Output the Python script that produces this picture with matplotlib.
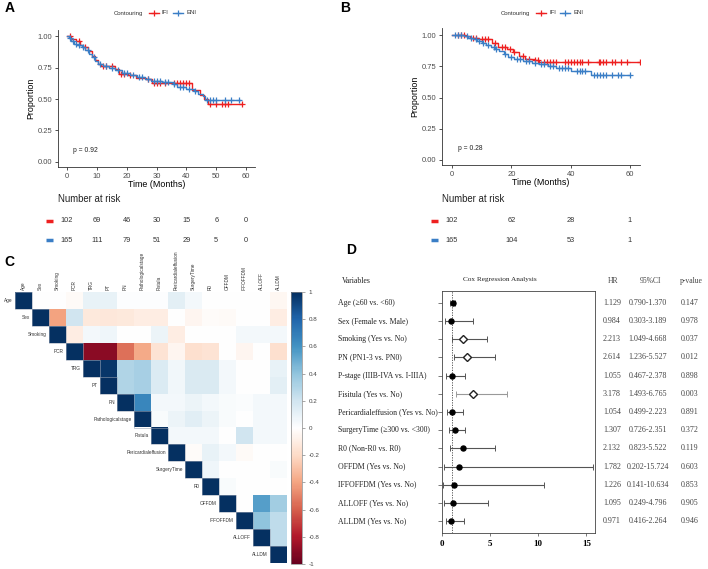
import numpy as np
import matplotlib
matplotlib.use("Agg")
import matplotlib.pyplot as plt
from matplotlib.lines import Line2D
from matplotlib.cm import ScalarMappable
from matplotlib.colors import Normalize, LinearSegmentedColormap
import matplotlib.transforms as mtrans

plt.rcParams['font.family'] = ['Liberation Sans', 'DejaVu Sans']

W, H = 708, 569

# ---------------- KM data ----------------
# Panel A (IFI = red, ENI = blue)
a_ifi_t = [0, 1.5, 3, 4.5, 5.5, 7, 8.5, 9.5, 10.5, 11.5, 16, 17.5, 20.5, 23, 26.5, 28.5, 42, 44.5, 46, 47.2]
a_ifi_s = [1.0, 0.98, 0.96, 0.93, 0.91, 0.88, 0.84, 0.81, 0.78, 0.76, 0.74, 0.70, 0.69, 0.67, 0.655, 0.625, 0.57, 0.53, 0.50, 0.46]
a_ifi_end = 58.5
a_ifi_cens = [1, 4, 6, 12, 13, 15, 18, 19, 21, 27, 29, 30, 31, 33, 36, 37, 38, 39, 40, 41, 48, 50, 52, 53, 54, 58.5]

a_eni_t = [0, 0.8, 1.5, 2.5, 3.5, 5, 6, 7.5, 8.5, 9.5, 10.5, 12, 14, 16, 18.5, 21, 23.5, 26, 28, 32, 35.5, 37, 40, 42.5, 44, 45.5, 46.2]
a_eni_s = [1.0, 0.985, 0.96, 0.94, 0.925, 0.91, 0.89, 0.86, 0.83, 0.80, 0.78, 0.765, 0.75, 0.73, 0.71, 0.69, 0.675, 0.66, 0.645, 0.635, 0.62, 0.595, 0.58, 0.56, 0.54, 0.52, 0.495]
a_eni_end = 58
a_eni_cens = [1, 2, 3, 4, 5.5, 7, 9, 11, 13, 15, 17, 19, 20, 22, 24, 25, 27, 29, 30, 31, 33, 34, 36, 38, 39, 41, 43, 47, 48, 49, 50, 53, 55, 57.8]

# Panel B
b_ifi_t = [0, 4.5, 6, 9, 13.5, 15.5, 18.5, 20.5, 22.5, 24.5, 27.5, 29.5]
b_ifi_s = [1.0, 0.99, 0.98, 0.97, 0.94, 0.905, 0.89, 0.865, 0.835, 0.81, 0.80, 0.785]
b_ifi_end = 63.3
b_ifi_cens = [2, 3, 4, 7, 8, 10, 11, 12, 14.5, 17, 18, 19.5, 21, 24, 26, 28, 29, 31, 32, 33, 34, 35, 38, 39,
              40, 41, 42, 43, 44, 46, 49.5, 50, 51, 52, 54, 55, 57, 59, 63.3]

b_eni_t = [0, 4, 5.5, 7, 8.5, 10, 11.5, 13, 14.5, 16, 17.5, 19, 21, 24, 27, 29.5, 32.5, 35, 40, 47]
b_eni_s = [1.0, 0.99, 0.98, 0.965, 0.95, 0.935, 0.92, 0.905, 0.89, 0.87, 0.85, 0.825, 0.81, 0.795, 0.78, 0.765, 0.75, 0.735, 0.715, 0.68]
b_eni_end = 60
b_eni_cens = [1, 2, 3, 5, 6.5, 8, 9, 10.5, 12, 14, 15, 18, 20, 22, 23, 25, 26, 28, 30, 31, 33, 34, 36, 37, 38,
              39, 42, 43, 44, 45, 48, 49, 50, 51, 52, 54, 56, 57, 60]

# numbers at risk
a_risk_times = [0, 10, 20, 30, 40, 50, 60]
a_risk_ifi = [102, 69, 46, 30, 15, 6, 0]
a_risk_eni = [165, 111, 79, 51, 29, 5, 0]
b_risk_times = [0, 20, 40, 60]
b_risk_ifi = [102, 62, 28, 1]
b_risk_eni = [165, 104, 53, 1]

# ---------------- correlation data ----------------
corr_vars = ["Age", "Sex", "Smoking", "PCR", "TRG", "PT", "PN", "Pathologicalstage", "Fistula",
             "Pericardialeffusion", "SurgeryTime", "R0", "OFFDM", "IFFOFFDM", "ALLOFF", "ALLDM"]
corr_upper = [
    [0, 0, -0.03, 0.1, 0.1, 0.01, 0.01, 0.01, 0.12, 0.05, 0, 0, 0, 0, -0.04],
    [-0.4, 0.2, -0.12, -0.13, -0.12, -0.1, -0.1, 0, -0.05, -0.02, -0.03, 0, 0, -0.1],
    [-0.1, 0.05, 0.07, 0, 0, 0.08, -0.1, 0, 0, 0, 0.05, 0.05, 0.05],
    [-0.9, -0.9, -0.55, -0.38, -0.15, -0.05, -0.17, -0.15, 0, -0.05, 0, -0.17],
    [0.97, 0.3, 0.33, 0.15, 0.06, 0.16, 0.16, 0.05, 0, 0, 0.1],
    [0.3, 0.33, 0.15, 0.06, 0.16, 0.16, 0.05, 0, 0, 0.12],
    [0.65, 0.05, 0.05, 0.08, 0.05, 0.03, 0.02, 0.05, 0.05],
    [0.03, 0.08, 0.13, 0.08, 0.03, 0, 0.05, 0.05],
    [0.05, 0.05, 0.05, 0, 0.2, 0.05, 0.05],
    [-0.02, 0.1, 0.05, -0.03, 0, 0],
    [0.07, 0, 0, 0, 0.03],
    [0.03, 0, 0, 0],
    [0, 0.55, 0.35],
    [0.4, 0.25],
    [0.25],
]

# ---------------- Cox regression data ----------------
cox_labels = ["Age (\u226560 vs. <60)", "Sex (Female vs. Male)", "Smoking (Yes vs. No)",
              "PN (PN1-3 vs. PN0)", "P-stage (IIIB-IVA vs. I-IIIA)", "Fisitula (Yes vs. No)",
              "Pericardialeffusion (Yes vs. No)", "SurgeryTime (\u2265300 vs. <300)", "R0 (Non-R0 vs. R0)",
              "OFFDM (Yes vs. No)", "IFFOFFDM (Yes vs. No)", "ALLOFF (Yes vs. No)", "ALLDM (Yes vs. No)"]
cox_hr = [1.129, 0.984, 2.213, 2.614, 1.055, 3.178, 1.054, 1.307, 2.132, 1.782, 1.226, 1.095, 0.971]
cox_lo = [0.790, 0.303, 1.049, 1.236, 0.467, 1.493, 0.499, 0.726, 0.823, 0.202, 0.141, 0.249, 0.416]
cox_hi = [1.370, 3.189, 4.668, 5.527, 2.378, 6.765, 2.223, 2.351, 5.522, 15.724, 10.634, 4.796, 2.264]
cox_p = [0.147, 0.978, 0.037, 0.012, 0.898, 0.003, 0.891, 0.372, 0.119, 0.603, 0.853, 0.905, 0.946]

RED = "#EE2020"
BLUE = "#3A7EC6"
GREY_TXT = "#4D4D4D"
# corrplot's default diverging palette (white in the middle)
corr_cmap = LinearSegmentedColormap.from_list(
    "col2", ["#67001F", "#B2182B", "#D6604D", "#F4A582", "#FDDBC7", "#FFFFFF",
             "#D1E5F0", "#92C5DE", "#4393C3", "#2166AC", "#053061"])


def box(x0, y0, x1, y1):
    return [x0 / W, 1 - y1 / H, (x1 - x0) / W, (y1 - y0) / H]


def px(x, y):
    return (x / W, 1 - y / H)


fig = plt.figure(figsize=(W / 100, H / 100), dpi=100)


def km_curve(ax, t, s, end, cens, color):
    ax.step(list(t) + [end], list(s) + [s[-1]], where="post", color=color, lw=1.0)
    idx = np.searchsorted(t, cens, side="right") - 1
    ax.plot(cens, np.array(s)[idx], ls="none", marker="+", ms=4.5, mew=0.9, color=color)


def km_panel(rect, xlim, ylim, xticks, curves, pval):
    ax = fig.add_axes(rect)
    for c in curves:
        km_curve(ax, *c)
    ax.set_xlim(*xlim)
    ax.set_ylim(*ylim)
    ax.set_xticks(xticks)
    ax.set_yticks([0, 0.25, 0.5, 0.75, 1.0])
    ax.set_yticklabels(["0.00", "0.25", "0.50", "0.75", "1.00"])
    for sp in ["top", "right"]:
        ax.spines[sp].set_visible(False)
    for sp in ["left", "bottom"]:
        ax.spines[sp].set_color("#333333")
        ax.spines[sp].set_linewidth(0.6)
    ax.tick_params(labelsize=5.5, labelcolor=GREY_TXT, color="#333333", length=2.5, width=0.6, pad=1.5)
    ax.set_xlabel("Time (Months)", fontsize=6.4, labelpad=0.5)
    ax.set_ylabel("Proportion", fontsize=6.4, labelpad=2)
    ax.text(2, 0.09, pval, fontsize=4.9, color="#222222", va="center")
    return ax


def km_legend(x0, y):
    fig.text(*px(x0, y), "Contouring", fontsize=4.3, color="#333333", va="center")
    items = [(x0 + 35, RED, "IFI"), (x0 + 59, BLUE, "ENI")]
    for xs, col, lab in items:
        fig.add_artist(Line2D([xs / W, (xs + 10) / W], [1 - y / H] * 2, color=col, lw=1.0,
                              transform=fig.transFigure))
        fig.add_artist(Line2D([(xs + 5) / W], [1 - y / H], color=col, marker="+", ms=4.5, mew=0.9,
                              transform=fig.transFigure))
        fig.text(*px(xs + 13, y), lab, fontsize=4.3, color="#333333", va="center")


def risk_table(rect, xlim, times, ifi, eni):
    ax = fig.add_axes(rect)
    ax.set_xlim(*xlim)
    ax.set_ylim(250, 192)
    ax.axis("off")
    ax.text(xlim[0] + 0.1, 199, "Number at risk", fontsize=6.9, color="#222222", va="center")
    for yy, vals, col in [(221, ifi, RED), (240, eni, BLUE)]:
        ax.plot([-7.0, -4.7], [yy, yy], color=col, lw=2.5, clip_on=False, solid_capstyle="butt")
        for t, v in zip(times, vals):
            ax.text(t, yy, str(v), fontsize=5.3, color="#333333", ha="center", va="center")


# Panel A
km_panel(box(58, 30, 255, 167), (-3.02, 63.0), (-0.04, 1.048), [0, 10, 20, 30, 40, 50, 60],
         [(a_ifi_t, a_ifi_s, a_ifi_end, a_ifi_cens, RED), (a_eni_t, a_eni_s, a_eni_end, a_eni_cens, BLUE)],
         "p = 0.92")
km_legend(114, 13)
risk_table(box(58, 192, 255, 250), (-3.02, 63.0), a_risk_times, a_risk_ifi, a_risk_eni)

# Panel B
km_panel(box(442, 28, 640, 165), (-3.37, 63.4), (-0.04, 1.056), [0, 20, 40, 60],
         [(b_ifi_t, b_ifi_s, b_ifi_end, b_ifi_cens, RED), (b_eni_t, b_eni_s, b_eni_end, b_eni_cens, BLUE)],
         "p = 0.28")
km_legend(501, 13)
risk_table(box(442, 192, 640, 250), (-3.37, 63.4), b_risk_times, b_risk_ifi, b_risk_eni)

# ---------------- Panel C: correlation heatmap ----------------
n = len(corr_vars)
mat = np.full((n, n), np.nan)
for i in range(n):
    mat[i, i] = 1.0
    for k, v in enumerate(corr_upper[i] if i < len(corr_upper) else []):
        mat[i, i + 1 + k] = v

axc = fig.add_axes(box(15, 292, 287, 563))
axc.imshow(np.ma.masked_invalid(mat), cmap=corr_cmap, vmin=-1, vmax=1, aspect="auto",
           extent=(-0.5, n - 0.5, n - 0.5, -0.5), interpolation="nearest")
axc.set_xlim(-0.5, n - 0.5)
axc.set_ylim(n - 0.5, -0.5)
axc.axis("off")
for i in range(n):
    axc.add_patch(plt.Rectangle((i - 0.5, i - 0.5), 1, 1, fill=False, ec="#9AA4B5", lw=0.4))
for i, name in enumerate(corr_vars):
    axc.text(i, -0.62, name, rotation=90, fontsize=3.4, ha="center", va="bottom", color="#333333",
             clip_on=False)
    axc.text(i - 0.62, i, name, fontsize=3.4, ha="right", va="center", color="#333333", clip_on=False)

cax = fig.add_axes(box(291, 292, 302, 564))
cb = fig.colorbar(ScalarMappable(norm=Normalize(-1, 1), cmap=corr_cmap), cax=cax,
                  ticks=np.round(np.arange(-1, 1.01, 0.2), 1))
cb.ax.set_yticklabels(["-1", "-0.8", "-0.6", "-0.4", "-0.2", "0", "0.2", "0.4", "0.6", "0.8", "1"])
cb.ax.tick_params(labelsize=4.5, labelcolor="#444444", length=2, width=0.4, color="#666666", pad=3)
cb.outline.set_edgecolor("#888888")
cb.outline.set_linewidth(0.5)

# ---------------- Panel D: forest plot ----------------
SERIF = ['Liberation Serif', 'DejaVu Serif']
axf = fig.add_axes(box(442, 291, 595, 533))
rows = np.arange(len(cox_labels))
axf.axvline(1, color="#444444", lw=0.6, ls=(0, (1.5, 1.5)), zorder=1)
for r, h, lo, hi, p in zip(rows, cox_hr, cox_lo, cox_hi, cox_p):
    sig = p < 0.05
    ecol = "#999999" if r == 5 else "#555555"
    axf.errorbar(h, r, xerr=[[h - lo], [hi - h]], fmt="none", ecolor=ecol, elinewidth=0.8,
                 capsize=2.2, capthick=0.7, zorder=2)
    if sig:
        axf.plot(h, r, marker="D", ms=4.5, mfc="white", mec="#222222", mew=1.0, zorder=3)
    else:
        axf.plot(h, r, marker="o", ms=3.6, mfc="black", mec="black", zorder=3)
axf.set_xlim(0, 15.9)
axf.set_ylim(12.66, -0.66)
axf.set_xticks([0, 5, 10, 15])
axf.set_yticks(rows)
axf.set_yticklabels([])
for lab in axf.get_xticklabels():
    lab.set_family(SERIF)
    lab.set_fontweight("bold")
axf.tick_params(axis="x", labelsize=6.5, length=2, width=0.5, color="#444444", pad=3)
axf.tick_params(axis="y", length=3, width=0.5, color="#444444")
for sp in axf.spines.values():
    sp.set_color("#444444")
    sp.set_linewidth(0.6)

tr = mtrans.blended_transform_factory(fig.transFigure, axf.transData)
for r, lab in zip(rows, cox_labels):
    axf.text(338 / W, r, lab, transform=tr, fontsize=5.6, family=SERIF, color="#222222",
             ha="left", va="center", clip_on=False)
for r, h, lo, hi, p in zip(rows, cox_hr, cox_lo, cox_hi, cox_p):
    axf.text(612 / W, r, f"{h:.3f}", transform=tr, fontsize=5.8, family=SERIF, color="#444444",
             ha="center", va="center", clip_on=False)
    axf.text(648 / W, r, f"{lo:.3f}-{hi:.3f}", transform=tr, fontsize=5.8, family=SERIF, color="#444444",
             ha="center", va="center", clip_on=False)
    axf.text(690 / W, r, f"{p:.3f}", transform=tr, fontsize=5.8, family=SERIF, color="#444444",
             ha="center", va="center", clip_on=False)

hy = -1.2
axf.text(342 / W, hy, "Variables", transform=tr, fontsize=5.6, family=SERIF, color="#222222",
         ha="left", va="center", clip_on=False)
axf.text(500 / W, hy - 0.1, "Cox Regression Analysis", transform=tr, fontsize=5.2, family=SERIF,
         color="#222222", ha="center", va="center", clip_on=False)
for xx, txt in [(613, "HR"), (650, "95%CI"), (691, "p-value")]:
    axf.text(xx / W, hy, txt, transform=tr, fontsize=5.5, family=SERIF, color="#444444",
             ha="center", va="center", clip_on=False)

# panel letters
for lx, ly, letter in [(10, 8, "A"), (345, 8, "B"), (9, 262, "C"), (351, 250, "D")]:
    fig.text(*px(lx, ly), letter, fontsize=10, fontweight="bold", ha="center", va="center")

fig.savefig("out.png", dpi=100)
